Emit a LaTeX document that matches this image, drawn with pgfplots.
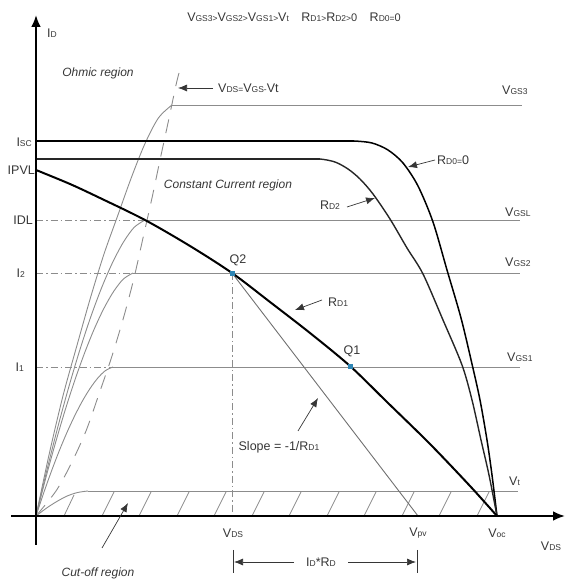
\documentclass[border=0pt]{standalone}
\usepackage{pgfplots}
\pgfplotsset{compat=1.18}
\usetikzlibrary{arrows.meta}
\usepackage{fontspec}
\setmainfont{Liberation Sans}
\definecolor{lg}{HTML}{8C8C8C}
\definecolor{tx}{HTML}{363636}
\definecolor{qb}{HTML}{2E86B5}
\newcommand{\sv}[2]{#1{\fontsize{8.5}{9}\selectfont #2}}
\newcommand{\gt}{{\fontsize{8.5}{9}\selectfont >}}
\newcommand{\sm}[1]{{\fontsize{8.5}{9}\selectfont #1}}
\tikzset{lab/.style={font=\fontsize{12.5}{14}\selectfont, text=tx, inner sep=0pt},
         ital/.style={font=\fontsize{12}{14}\selectfont\itshape, text=tx, inner sep=0pt},
         ann/.style={tx, line width=0.7pt, -{Latex[length=9pt,width=7pt]}}}
\begin{document}
\begin{tikzpicture}
\begin{axis}[x=1pt,y=1pt,xmin=-36,xmax=535,ymin=-65,ymax=516,
  axis line style={draw=none}, ticks=none, clip=false,
  unbounded coords=jump]
% hatching of cut-off region
\addplot[lg, line width=0.8pt] coordinates {(28,0) (38,21) (nan,nan)
 (66,0) (78,24) (nan,nan) (103,0) (115,24) (nan,nan) (141,0) (153,24) (nan,nan)
 (178,0) (190,24) (nan,nan) (216,0) (228,24) (nan,nan) (253,0) (265,24) (nan,nan)
 (291,0) (303,24) (nan,nan) (328,0) (340,24) (nan,nan) (366,0) (378,24) (nan,nan)
 (403,0) (415,24) (nan,nan) (441,0) (453,24)};
% Vt curve
\addplot[lg, line width=0.9pt, smooth] coordinates {(0,0) (10.4,7.8) (20.8,14.5) (31.2,20) (41.6,23.5) (52,25)};
\addplot[lg, line width=0.9pt] coordinates {(52,25) (482,25)};
% VGS1
\addplot[lg, line width=0.9pt, smooth] coordinates {(0,0) (7.7,23.1) (15.4,44.7) (23.1,64.8) (30.8,83.2) (38.5,99.8) (46.2,114.6) (53.9,127.3) (61.6,137.7) (69.3,145.3) (77,149)};
\addplot[lg, line width=0.9pt] coordinates {(77,149) (484,149)};
\addplot[lg, line width=0.8pt, dash pattern=on 7pt off 3pt on 1.5pt off 3pt] coordinates {(0,149) (77,149)};
% VGS2
\addplot[lg, line width=0.9pt, smooth] coordinates {(0,0) (9.7,37.7) (19.4,72.9) (29.1,105.7) (38.8,135.7) (48.5,162.8) (58.2,186.9) (67.9,207.6) (77.6,224.5) (87.3,236.9) (97,243)};
\addplot[lg, line width=0.9pt] coordinates {(97,243) (484,243)};
\addplot[lg, line width=0.8pt, dash pattern=on 7pt off 3pt on 1.5pt off 3pt] coordinates {(0,243) (97,243)};
% VGSL
\addplot[lg, line width=0.9pt, smooth] coordinates {(0,0) (10.9,45.9) (21.8,88.9) (32.7,128.7) (43.6,165.3) (54.5,198.4) (65.4,227.7) (76.3,252.9) (87.2,273.5) (98.1,288.6) (109,296)};
\addplot[lg, line width=0.9pt] coordinates {(109,296) (484,296)};
\addplot[lg, line width=0.8pt, dash pattern=on 7pt off 3pt on 1.5pt off 3pt] coordinates {(0,296) (109,296)};
% VGS3
\addplot[lg, line width=0.9pt, smooth] coordinates {(0,0) (13.6,63.7) (27.2,121) (40.8,170) (54.4,218) (68,262) (81.6,300) (95.2,338) (108.8,372) (122.4,398) (136,411)};
\addplot[lg, line width=0.9pt] coordinates {(136,411) (486,411)};
% locus VDS = VGS - Vt
\addplot[lg, line width=0.9pt, dash pattern=on 14pt off 10pt, smooth] coordinates {(0,0) (20,25) (35,52) (50,85) (63,122) (76,160) (88,200) (98,238) (107,278) (116,318) (124,356) (132,393) (140,431) (143,443)};
% RD0 = 0 curve (Isc)
\addplot[black, line width=1.5pt] coordinates {(0,375) (318,375)};
\addplot[black, line width=1.5pt, smooth, tension=0.5] coordinates {(300,375) (318,375) (336,373) (352,366) (367,353) (382,330) (397,294) (411,246) (425,198) (436,152) (444,116) (451,76) (456,41) (461,0)};
% RD2 curve
\addplot[black!85, line width=1.4pt] coordinates {(0,357) (284,357)};
\addplot[black!85, line width=1.4pt, smooth, tension=0.5] coordinates {(268,357) (284,357) (299,354) (312,347) (324,337) (337,322) (354,297) (371,268) (387,242) (407,196) (426,151) (436,116) (445,76) (453,41) (461,0)};
% load line and VDS marker
\addplot[lg!80!black, line width=0.9pt] coordinates {(196,243) (382,0)};
\addplot[lg, line width=0.8pt, dash pattern=on 7pt off 3pt on 1.5pt off 3pt] coordinates {(196,243) (196,0)};
% PV curve (RD1)
\addplot[black, line width=2pt, smooth] coordinates {(0,346) (34,332) (64,318) (109,296) (154,270) (196,243) (234,214) (274,183) (314,150) (351,114) (394,72) (434,30) (461,0)};
% operating points
\addplot[only marks, mark=square*, mark size=1.8pt, qb] coordinates {(196,243) (314,150)};
% axes
\addplot[black, line width=2.6pt, -{Latex[length=12pt,width=10pt]}] coordinates {(-25,0) (529,0)};
\addplot[black, line width=2.6pt, -{Latex[length=12pt,width=10pt]}] coordinates {(0,-29) (0,501)};

% labels
\node[lab, anchor=west] at (axis cs:11,483) {\sv{I}{D}};
\node[lab] at (axis cs:258,499) {\sv{V}{GS3}\gt\sv{V}{GS2}\gt\sv{V}{GS1}\gt\sv{V}{t}\quad \sv{R}{D1}\gt\sv{R}{D2}\gt{\fontsize{11}{12}\selectfont 0}\quad \sv{R}{D0}\sm{=}{\fontsize{11}{12}\selectfont 0}};
\node[ital] at (axis cs:62,443) {Ohmic region};
\node[ital] at (axis cs:192,331) {Constant Current region};
\node[ital] at (axis cs:62,-57) {Cut-off region};
\node[lab, anchor=west] at (axis cs:182,428) {\sv{V}{DS}\sm{=}\sv{V}{GS}\sm{-}Vt};
\draw[ann] (axis cs:177,428) -- (axis cs:142,428);
\node[lab, anchor=east] at (axis cs:-4,374) {\sv{I}{SC}};
\node[lab, anchor=east] at (axis cs:-1,346) {IPVL};
\node[lab, anchor=east] at (axis cs:-3,296) {IDL};
\node[lab, anchor=east] at (axis cs:-11,243) {\sv{I}{2}};
\node[lab, anchor=east] at (axis cs:-12,149) {\sv{I}{1}};
\node[lab, anchor=west] at (axis cs:466,426) {\sv{V}{GS3}};
\node[lab, anchor=west] at (axis cs:469,304) {\sv{V}{GSL}};
\node[lab, anchor=west] at (axis cs:469,254) {\sv{V}{GS2}};
\node[lab, anchor=west] at (axis cs:471,159) {\sv{V}{GS1}};
\node[lab, anchor=west] at (axis cs:473,35) {\sv{V}{t}};
\node[lab, anchor=west] at (axis cs:401,356) {\sv{R}{D0}\sm{=}0};
\draw[ann] (axis cs:399,356) -- (axis cs:372,349);
\node[lab] at (axis cs:294,311) {\sv{R}{D2}};
\draw[ann] (axis cs:311,309) -- (axis cs:339,318);
\node[lab, anchor=west] at (axis cs:292,214) {\sv{R}{D1}};
\draw[ann] (axis cs:286,216) -- (axis cs:259,206);
\node[lab] at (axis cs:202,256) {Q2};
\node[lab] at (axis cs:316,165) {Q1};
\node[lab] at (axis cs:243,69) {Slope = -1/\sv{R}{D1}};
\draw[ann] (axis cs:262,85) -- (axis cs:282,118);
\draw[ann] (axis cs:66,-32) -- (axis cs:92,13);
\node[lab] at (axis cs:197,-17) {\sv{V}{DS}};
\node[lab] at (axis cs:382,-17) {\sv{V}{pv}};
\node[lab] at (axis cs:461,-17) {\sv{V}{oc}};
\node[lab] at (axis cs:515,-30) {\sv{V}{DS}};
% ID*RD dimension
\draw[tx, line width=0.8pt] (axis cs:197,-34) -- (axis cs:197,-57);
\draw[tx, line width=0.8pt] (axis cs:381,-34) -- (axis cs:381,-57);
\draw[ann] (axis cs:258,-46) -- (axis cs:198,-46);
\draw[ann] (axis cs:312,-46) -- (axis cs:380,-46);
\node[lab] at (axis cs:285,-46) {\sv{I}{D}*\sv{R}{D}};
\end{axis}
\end{tikzpicture}
\end{document}
